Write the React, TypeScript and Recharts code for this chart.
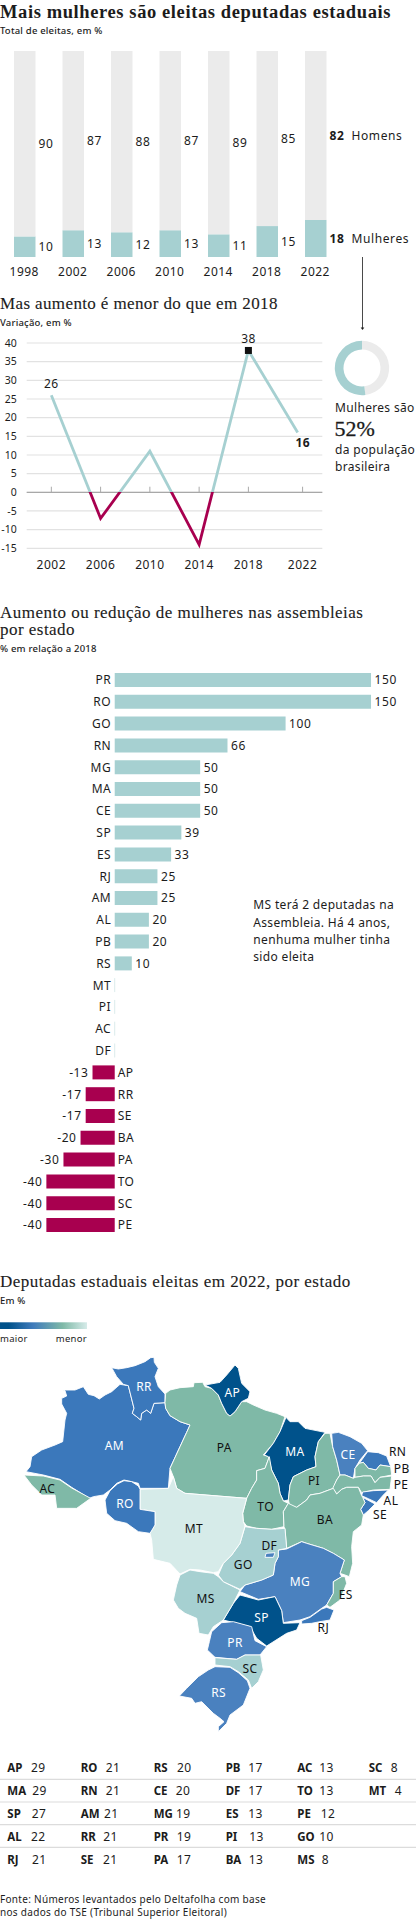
import {
  BarChart,
  Bar,
  Cell,
  XAxis,
  YAxis,
  LabelList,
  LineChart,
  Line,
  CartesianGrid,
  ReferenceLine,
  PieChart,
  Pie,
  ScatterChart,
  Scatter,
} from "recharts";

const SANS = "'Noto Sans', sans-serif";
const SERIF = "'Liberation Serif', serif";
const INK = "#1c1c1c";
const TEAL = "#a6d0d1";
const GREY = "#ebebeb";
const CRIMSON = "#a8004f";

// eleitas por ano
const YEARS = ["1998", "2002", "2006", "2010", "2014", "2018", "2022"];
const WOMEN = [10, 13, 12, 13, 11, 15, 18];
const MEN = [90, 87, 88, 87, 89, 85, 82];

// variacao
const VAR_YEARS = [2002, 2006, 2010, 2014, 2018, 2022];
const VAR_VALUES = [26, -7, 11, -14, 38, 16];
const VAR_Y_TICKS = [40, 35, 30, 25, 20, 15, 10, 5, 0, -5, -10, -15];
const VAR_X_TICKS = [2002, 2006, 2010, 2014, 2018, 2022.4];

// populacao
const POP_NAMES = ["Homens", "Mulheres"];
const POP_VALUES = [48, 52];

// assembleias
const BAR_STATES = ["PR", "RO", "GO", "RN", "MG", "MA", "CE", "SP", "ES", "RJ", "AM", "AL", "PB", "RS", "MT", "PI", "AC", "DF", "AP", "RR", "SE", "BA", "PA", "TO", "SC", "PE"];
const BAR_VALUES = [150, 150, 100, 66, 50, 50, 50, 39, 33, 25, 25, 20, 20, 10, 0, 0, 0, 0, -13, -17, -17, -20, -30, -40, -40, -40];
const BAR_ZERO_X = 114.7; // posicao do zero, para os nomes dos estados

// tabela final, por coluna
const TABLE_STATES = [
  ["AP", "MA", "SP", "AL", "RJ"],
  ["RO", "RN", "AM", "RR", "SE"],
  ["RS", "CE", "MG", "PR", "PA"],
  ["PB", "DF", "ES", "PI", "BA"],
  ["AC", "TO", "PE", "GO", "MS"],
  ["SC", "MT"],
];
const TABLE_VALUES = [
  [29, 29, 27, 22, 21],
  [21, 21, 21, 21, 21],
  [20, 20, 19, 19, 17],
  [17, 17, 13, 13, 13],
  [13, 13, 12, 10, 8],
  [8, 4],
];
const TABLE_COL_X = [7.3, 80.7, 153.7, 225.7, 297.3, 368.7];
const TABLE_VAL_X = [
  [31, 32.3, 31.7, 31, 32],
  [105.7, 105.7, 104, 103.3, 103],
  [177, 175.7, 176, 176.7, 176.7],
  [248.3, 248.3, 248.3, 249.3, 248.7],
  [319.3, 319.3, 320.7, 319.3, 321.7],
  [390.7, 394.7],
];
const TABLE_ROW_Y = [1767.7, 1790.3, 1813.3, 1836.3, 1859];
const TABLE_RULE_Y = [1779.3, 1802, 1824.7, 1847.3];

// mapa: contornos em unidades do mapa (3 por pixel)
const BANDS = ["#00528b", "#3b78bb", "#4a81bf", "#7fb9a7", "#a6d0d1", "#d6ebe9"];
const MAP_STATES = ["AM", "RR", "PA", "AP", "MA", "TO", "PI", "CE", "RN", "PB", "PE", "AL", "SE", "BA", "MG", "ES", "RJ", "SP", "PR", "SC", "RS", "MS", "GO", "MT", "RO", "AC", "DF"];
const MAP_BAND = [1, 1, 3, 0, 0, 3, 3, 2, 1, 3, 3, 1, 1, 3, 2, 3, 1, 0, 2, 4, 2, 4, 4, 5, 1, 3, 2];
const MAP_LABEL_X = [343, 432, 673, 697, 885, 797, 942, 1044, 1193, 1205, 1203, 1173, 1140, 975, 900, 1037, 970, 785, 705, 750, 656, 617, 730, 582, 375, 142, 808];
const MAP_LABEL_Y = [135, -40, 143, -22, 155, 318, 242, 163, 153, 205, 252, 300, 343, 357, 543, 582, 683, 653, 727, 805, 878, 595, 494, 385, 311, 265, 435];
const MAP_LIGHT_LABEL = ["AM", "RR", "AP", "MA", "CE", "MG", "SP", "PR", "RS", "RO"];
const OUTLINES: Record<string, number[][]> = {
  AM: [[188, -30], [210, -30], [225, -30], [250, -40], [265, -17], [282, -13], [298, -3], [315, -15], [335, -25], [360, -47], [385, -43], [392, -15], [402, 25], [397, 40], [410, 50], [422, 60], [425, 40], [440, 30], [452, 40], [462, 10], [495, 8], [497, 25], [510, 47], [540, 65], [570, 75], [560, 97], [540, 140], [510, 205], [505, 265], [420, 265], [415, 250], [395, 245], [372, 240], [350, 250], [330, 270], [310, 285], [280, 290], [268, 295], [215, 262], [180, 238], [130, 225], [78, 215], [90, 200], [95, 170], [125, 150], [165, 135], [188, 125], [195, 60], [200, 40], [185, 12], [185, -5], [200, -12], [195, -28]],
  RR: [[335, -97], [355, -93], [380, -97], [405, -103], [435, -115], [452, -127], [462, -128], [463, -113], [475, -95], [465, -70], [475, -40], [495, -18], [495, 8], [462, 10], [452, 40], [440, 30], [425, 40], [422, 60], [410, 50], [397, 40], [402, 25], [392, -15], [385, -43], [370, -47], [350, -70]],
  PA: [[497, -20], [510, -30], [540, -37], [580, -40], [582, -52], [608, -53], [615, -40], [635, -35], [655, -15], [665, 10], [680, 40], [690, 48], [705, 35], [725, 5], [740, 5], [760, 15], [795, 30], [830, 40], [855, 50], [840, 95], [820, 130], [790, 165], [808, 170], [795, 205], [770, 212], [770, 240], [755, 265], [740, 295], [555, 280], [530, 265], [520, 230], [510, 205], [540, 140], [560, 97], [570, 75], [540, 65], [510, 47], [497, 25], [495, 8]],
  AP: [[615, -45], [660, -53], [680, -75], [705, -105], [715, -95], [725, -50], [750, -25], [745, -5], [725, 5], [705, 35], [690, 48], [680, 40], [665, 10], [655, -15], [635, -35]],
  MA: [[858, 52], [870, 65], [895, 65], [915, 85], [975, 97], [955, 125], [945, 170], [948, 200], [920, 210], [880, 230], [870, 255], [865, 300], [850, 303], [840, 280], [835, 250], [815, 210], [805, 170], [793, 165], [820, 130], [840, 95]],
  TO: [[808, 170], [815, 210], [835, 250], [840, 280], [850, 303], [865, 310], [850, 335], [852, 380], [815, 388], [770, 385], [740, 378], [730, 365], [728, 340], [740, 295], [755, 265], [770, 240], [770, 212], [795, 205]],
  PI: [[975, 100], [990, 100], [998, 140], [1010, 180], [1020, 225], [1010, 240], [1000, 265], [960, 280], [930, 285], [920, 300], [890, 322], [870, 320], [865, 300], [870, 255], [880, 230], [920, 210], [948, 200], [945, 170], [955, 125]],
  CE: [[995, 100], [1015, 97], [1050, 110], [1085, 130], [1103, 152], [1080, 180], [1065, 205], [1060, 235], [1035, 225], [1020, 225], [1010, 180], [998, 140]],
  RN: [[1103, 155], [1135, 158], [1160, 168], [1172, 200], [1140, 195], [1128, 210], [1105, 205], [1090, 187], [1078, 190]],
  PB: [[1065, 205], [1078, 190], [1090, 187], [1105, 205], [1128, 210], [1140, 195], [1172, 200], [1175, 225], [1140, 232], [1125, 248], [1113, 228], [1090, 228], [1065, 232]],
  PE: [[1020, 225], [1035, 225], [1060, 235], [1065, 232], [1090, 228], [1113, 228], [1125, 248], [1140, 232], [1175, 228], [1170, 268], [1120, 270], [1085, 278], [1075, 262], [1040, 262], [1025, 268], [1010, 282], [998, 265], [1010, 240]],
  AL: [[1088, 276], [1120, 272], [1165, 270], [1150, 285], [1130, 308], [1105, 296], [1085, 287]],
  SE: [[1088, 292], [1125, 312], [1105, 332], [1090, 345], [1082, 328], [1095, 308]],
  BA: [[865, 310], [890, 322], [920, 300], [930, 285], [960, 280], [1000, 265], [1010, 282], [1025, 268], [1040, 262], [1075, 262], [1085, 287], [1088, 292], [1095, 308], [1082, 328], [1090, 345], [1085, 375], [1060, 395], [1055, 440], [1058, 490], [1048, 530], [1035, 525], [1020, 520], [1033, 480], [1000, 460], [970, 445], [920, 430], [905, 425], [860, 445], [855, 390], [852, 380], [850, 335]],
  MG: [[835, 450], [860, 447], [905, 425], [920, 430], [970, 445], [1000, 460], [1033, 480], [1020, 520], [1025, 530], [1000, 545], [1000, 580], [980, 615], [965, 625], [930, 650], [900, 660], [850, 668], [845, 632], [825, 590], [775, 598], [720, 575], [735, 555], [785, 540], [820, 525], [825, 490], [835, 470]],
  ES: [[1035, 530], [1040, 550], [1020, 600], [990, 622], [980, 615], [1000, 580], [1000, 545], [1025, 530]],
  RJ: [[965, 627], [980, 622], [1002, 630], [990, 660], [960, 665], [935, 670], [905, 672], [905, 662], [930, 652]],
  SP: [[720, 585], [775, 600], [825, 590], [845, 632], [850, 670], [900, 668], [890, 690], [860, 700], [800, 738], [770, 715], [750, 680], [670, 660], [700, 610]],
  PR: [[635, 695], [665, 668], [700, 665], [755, 680], [765, 722], [800, 740], [780, 765], [735, 765], [710, 778], [645, 772], [622, 750], [628, 725]],
  SC: [[645, 773], [710, 778], [735, 765], [782, 765], [790, 810], [775, 845], [755, 865], [745, 840], [715, 815], [690, 800], [645, 795]],
  RS: [[645, 800], [690, 802], [715, 818], [742, 842], [750, 865], [730, 915], [690, 945], [680, 970], [655, 995], [655, 980], [672, 965], [660, 955], [640, 940], [605, 905], [585, 910], [575, 895], [538, 888], [560, 865], [595, 830], [625, 810]],
  MS: [[540, 525], [570, 510], [600, 515], [640, 520], [655, 530], [670, 545], [720, 570], [700, 610], [670, 660], [640, 680], [625, 705], [597, 700], [590, 655], [555, 640], [535, 625], [520, 600], [530, 555]],
  GO: [[735, 380], [770, 385], [815, 388], [855, 385], [860, 445], [835, 450], [835, 470], [825, 490], [820, 525], [785, 540], [735, 555], [720, 568], [670, 545], [655, 525], [670, 490], [695, 465], [720, 430]],
  MT: [[420, 268], [505, 265], [520, 230], [530, 265], [555, 280], [740, 295], [728, 340], [730, 365], [735, 378], [720, 430], [695, 465], [670, 490], [655, 515], [640, 518], [600, 510], [570, 508], [540, 522], [510, 490], [460, 478], [455, 420], [450, 400], [465, 375], [465, 335], [420, 328]],
  RO: [[372, 242], [395, 245], [415, 258], [420, 268], [420, 328], [465, 335], [465, 375], [450, 400], [415, 395], [380, 370], [345, 362], [320, 340], [315, 300], [330, 272], [352, 252]],
  AC: [[72, 225], [130, 228], [180, 240], [215, 264], [272, 295], [230, 325], [170, 325], [165, 285], [125, 285], [95, 255]],
  DF: [[798, 460], [825, 458], [820, 472], [795, 472]],
};

const electedData = YEARS.map((year, i) => ({ year, mulheres: WOMEN[i], homens: MEN[i] }));
const variationData = VAR_YEARS.map((year, i) => ({ year, value: VAR_VALUES[i] }));
const populationData = POP_NAMES.map((name, i) => ({ name, value: POP_VALUES[i] }));
const stateData = BAR_STATES.map((state, i) => ({ state, value: BAR_VALUES[i] }));
const mapData = MAP_STATES.map((state, i) => ({ state, band: MAP_BAND[i], x: MAP_LABEL_X[i], y: MAP_LABEL_Y[i] }));

const box = (p: any) => p.viewBox ?? p;

function Txt({ x, y, size = 12, bold, serif, anchor, fill = INK, spacing, heavy, children }: any) {
  return (
    <text
      x={x}
      y={y}
      fontFamily={serif ? SERIF : SANS}
      fontSize={size}
      fontWeight={bold === true ? 700 : bold || 400}
      textAnchor={anchor}
      fill={fill}
      stroke={heavy ? fill : undefined}
      strokeWidth={heavy}
      letterSpacing={spacing}
      dominantBaseline="central"
    >
      {children}
    </text>
  );
}

function ElectedLabel(p: any, word: string) {
  const { x, y, width, height } = box(p);
  const last = p.index === YEARS.length - 1;
  const cy = y + height / 2;
  return (
    <g>
      <Txt x={x + width + 3} y={cy} bold={last} spacing={0.7}>{p.value}</Txt>
      {last && <Txt x={x + width + 25} y={cy} spacing={0.6}>{word}</Txt>}
    </g>
  );
}

function VariationLabel(p: any) {
  const { x, y } = box(p);
  if (p.index === 0 || p.index === 4)
    return <Txt x={x} y={y - 11.5} anchor="middle" spacing={0.4}>{p.value}</Txt>;
  if (p.index === 5)
    return <Txt x={x + 5} y={y + 10} anchor="middle" bold spacing={0.4}>{p.value}</Txt>;
  return null;
}

function PeakDot(p: any) {
  if (p.payload.year !== 2018) return <g key={p.index} />;
  return <rect key={p.index} x={p.cx - 3.5} y={p.cy - 3.5} width={7} height={7} fill="#111" />;
}

function StateValue(p: any) {
  const { x, y, width, height } = box(p);
  const left = Math.min(x, x + width);
  const right = Math.max(x, x + width);
  const cy = y + height / 2;
  if (p.value < 0) return <Txt x={left - 4} y={cy} anchor="end" spacing={0.6}>{p.value}</Txt>;
  return <Txt x={right + 3.5} y={cy} spacing={0.6}>{p.value}</Txt>;
}

function StateTick(p: any) {
  const value = BAR_VALUES[p.index];
  return (
    <g>
      {value === 0 && <line x1={BAR_ZERO_X} x2={BAR_ZERO_X} y1={p.y - 7} y2={p.y + 7} stroke="#dcecec" />}
      {value < 0 ? (
        <Txt x={BAR_ZERO_X + 3} y={p.y} spacing={0.5}>{p.payload.value}</Txt>
      ) : (
        <Txt x={BAR_ZERO_X - 3.5} y={p.y} anchor="end" spacing={0.5}>{p.payload.value}</Txt>
      )}
    </g>
  );
}

function StateShape(p: any) {
  const pts = OUTLINES[p.payload.state];
  const d = pts
    .map(([u, v], i) => `${i ? "L" : "M"}${p.cx + (u - p.payload.x) / 3} ${p.cy + (v - p.payload.y) / 3}`)
    .join(" ");
  return <path d={d + "Z"} fill={BANDS[p.payload.band]} stroke="#fff" strokeWidth={0.9} strokeLinejoin="round" />;
}

function StateName(p: any) {
  const light = MAP_LIGHT_LABEL.includes(p.payload.state);
  return (
    <Txt x={p.cx} y={p.cy} anchor="middle" fill={light ? "#fff" : "#111"} spacing={0.4}>
      {p.payload.state}
    </Txt>
  );
}

export default function App() {
  return (
    <div style={{ position: "absolute", left: 0, top: 0, width: 416, height: 1920, overflow: "hidden", background: "#fff" }}>
      <div style={{ position: "absolute", left: 0, top: 51 }}>
        <BarChart width={416} height={232} data={electedData} margin={{ top: 0, right: 76.5, bottom: 0, left: 0 }} barSize={21.5}>
          <XAxis dataKey="year" height={26} tickLine={false} axisLine={false} interval={0} tickMargin={4} tick={{ fontFamily: SANS, fontSize: 12, fill: INK, letterSpacing: 0.5 }} />
          <YAxis hide domain={[0, 100]} />
          <Bar dataKey="mulheres" stackId="a" fill={TEAL} isAnimationActive={false}>
            <LabelList dataKey="mulheres" content={(p: any) => ElectedLabel(p, "Mulheres")} />
          </Bar>
          <Bar dataKey="homens" stackId="a" fill={GREY} isAnimationActive={false}>
            <LabelList dataKey="homens" content={(p: any) => ElectedLabel(p, "Homens")} />
          </Bar>
        </BarChart>
      </div>

      <div style={{ position: "absolute", left: 0, top: 323 }}>
        <LineChart width={416} height={255} data={variationData} margin={{ top: 20, right: 93.7, bottom: 0, left: 0 }}>
          <defs>
            <linearGradient id="signStroke" x1="0" y1="0" x2="0" y2="1">
              <stop offset={38 / 52} stopColor={TEAL} />
              <stop offset={38 / 52} stopColor={CRIMSON} />
            </linearGradient>
          </defs>
          <CartesianGrid vertical={false} stroke="#e2e2e2" strokeWidth={1.2} />
          <XAxis
            dataKey="year"
            type="number"
            domain={[2000, 2024]}
            ticks={VAR_X_TICKS}
            tickFormatter={(v: number) => String(Math.floor(v))}
            height={29.7}
            tickLine={false}
            axisLine={false}
            interval={0}
            tickMargin={6}
            tick={{ fontFamily: SANS, fontSize: 12, fill: INK, letterSpacing: 0.5 }}
          />
          <YAxis
            type="number"
            domain={[-15, 40]}
            ticks={VAR_Y_TICKS}
            interval={0}
            width={26.7}
            tickLine={false}
            axisLine={false}
            tickMargin={4}
            tick={{ fontFamily: SANS, fontSize: 10.5, fill: INK }}
          />
          <ReferenceLine y={0} stroke="#9a9a9a" strokeWidth={1} />
          {VAR_X_TICKS.map((x) => (
            <ReferenceLine key={x} segment={[{ x, y: 0 }, { x, y: 1.5 }]} stroke="#aaa" />
          ))}
          <Line dataKey="value" type="linear" stroke="url(#signStroke)" strokeWidth={2.8} dot={PeakDot} isAnimationActive={false}>
            <LabelList dataKey="value" content={VariationLabel} />
          </Line>
        </LineChart>
      </div>

      <div style={{ position: "absolute", left: 332.3, top: 337.7 }}>
        <PieChart width={60} height={60} margin={{ top: 0, right: 0, bottom: 0, left: 0 }}>
          <Pie data={populationData} dataKey="value" cx={30} cy={30} innerRadius={18.5} outerRadius={27.2} startAngle={90} endAngle={-270} stroke="none" isAnimationActive={false}>
            <Cell fill={GREY} />
            <Cell fill={TEAL} />
          </Pie>
        </PieChart>
      </div>

      <div style={{ position: "absolute", left: 0, top: 669.1 }}>
        <BarChart width={416} height={566.8} layout="vertical" data={stateData} margin={{ top: 0, right: 10.8, bottom: 0, left: 0 }} barSize={14}>
          <XAxis type="number" hide domain={[-60, 170]} />
          <YAxis type="category" dataKey="state" width={12.2} interval={0} tickLine={false} axisLine={false} tick={StateTick} />
          <Bar dataKey="value" isAnimationActive={false}>
            {stateData.map((d) => (
              <Cell key={d.state} fill={d.value < 0 ? CRIMSON : TEAL} />
            ))}
            <LabelList dataKey="value" content={StateValue} />
          </Bar>
        </BarChart>
      </div>

      <div style={{ position: "absolute", left: 0, top: 1345 }}>
        <ScatterChart width={416} height={422} margin={{ top: 0, right: 0, bottom: 0, left: 0 }}>
          <XAxis type="number" dataKey="x" hide domain={[0, 1248]} />
          <YAxis type="number" dataKey="y" hide domain={[-165, 1101]} reversed />
          <Scatter data={mapData} shape={StateShape} isAnimationActive={false} />
          <Scatter data={mapData} shape={StateName} isAnimationActive={false} />
        </ScatterChart>
      </div>

      <svg width={416} height={1920} style={{ position: "absolute", left: 0, top: 0, pointerEvents: "none" }}>
        <defs>
          <linearGradient id="mapScale" x1="0" y1="0" x2="1" y2="0">
            <stop offset="0.1" stopColor="#00528b" />
            <stop offset="0.38" stopColor="#3f7bbb" />
            <stop offset="0.72" stopColor="#7fb9a7" />
            <stop offset="1" stopColor="#d6ebe9" />
          </linearGradient>
        </defs>

        <Txt x={0} y={11.5} size={18.5} serif bold spacing={0.6}>Mais mulheres são eleitas deputadas estaduais</Txt>
        <Txt x={0} y={30.5} size={9.5} bold={500} spacing={0.2}>Total de eleitas, em %</Txt>

        <line x1={362.5} x2={362.5} y1={257} y2={328} stroke={INK} strokeWidth={0.8} />
        <path d="M360.7 327.5 L364.3 327.5 L362.5 330 Z" fill={INK} />

        <Txt x={0} y={303} size={17} serif heavy={0.12} spacing={0.38}>Mas aumento é menor do que em 2018</Txt>
        <Txt x={0} y={322.7} size={9.5} bold={500} spacing={0.2}>Variação, em %</Txt>

        <Txt x={335} y={407.7} spacing={0.33}>Mulheres são</Txt>
        <Txt x={334.5} y={428.7} size={22} serif heavy={0.3}>52%</Txt>
        <Txt x={335} y={449.3} spacing={0.33}>da população</Txt>
        <Txt x={335} y={466} spacing={0.33}>brasileira</Txt>

        <Txt x={0} y={612} size={17} serif heavy={0.12} spacing={0.47}>Aumento ou redução de mulheres nas assembleias</Txt>
        <Txt x={0} y={629.5} size={17} serif heavy={0.12} spacing={0.47}>por estado</Txt>
        <Txt x={0} y={648} size={9.5} bold={500} spacing={0.2}>% em relação a 2018</Txt>

        <Txt x={253.3} y={904.7} spacing={0.33}>MS terá 2 deputadas na</Txt>
        <Txt x={253.3} y={922} spacing={0.33}>Assembleia. Há 4 anos,</Txt>
        <Txt x={253.3} y={939.5} spacing={0.33}>nenhuma mulher tinha</Txt>
        <Txt x={253.3} y={956.7} spacing={0.33}>sido eleita</Txt>

        <Txt x={0} y={1281.5} size={17} serif heavy={0.12} spacing={0.48}>Deputadas estaduais eleitas em 2022, por estado</Txt>
        <Txt x={0} y={1300} size={9.5} bold={500} spacing={0.2}>Em %</Txt>
        <rect x={0} y={1322.3} width={87} height={6.7} fill="url(#mapScale)" />
        <Txt x={0} y={1338} size={9.5} spacing={0.3}>maior</Txt>
        <Txt x={87} y={1338} size={9.5} anchor="end" spacing={0.3}>menor</Txt>

        {TABLE_RULE_Y.map((y) => (
          <line key={y} x1={0} x2={416} y1={y} y2={y} stroke="#dcdcdc" strokeWidth={1.2} />
        ))}
        {TABLE_STATES.map((col, c) =>
          col.map((state, r) => (
            <g key={state}>
              <Txt x={TABLE_COL_X[c]} y={TABLE_ROW_Y[r]} size={11.5} bold>{state}</Txt>
              <Txt x={TABLE_VAL_X[c][r]} y={TABLE_ROW_Y[r]} size={12} spacing={0.4}>{TABLE_VALUES[c][r]}</Txt>
            </g>
          )),
        )}

        <Txt x={0} y={1899.3} size={10} spacing={0.3}>Fonte: Números levantados pelo Deltafolha com base</Txt>
        <Txt x={0} y={1911.7} size={10} spacing={0.3}>nos dados do TSE (Tribunal Superior Eleitoral)</Txt>
      </svg>
    </div>
  );
}
